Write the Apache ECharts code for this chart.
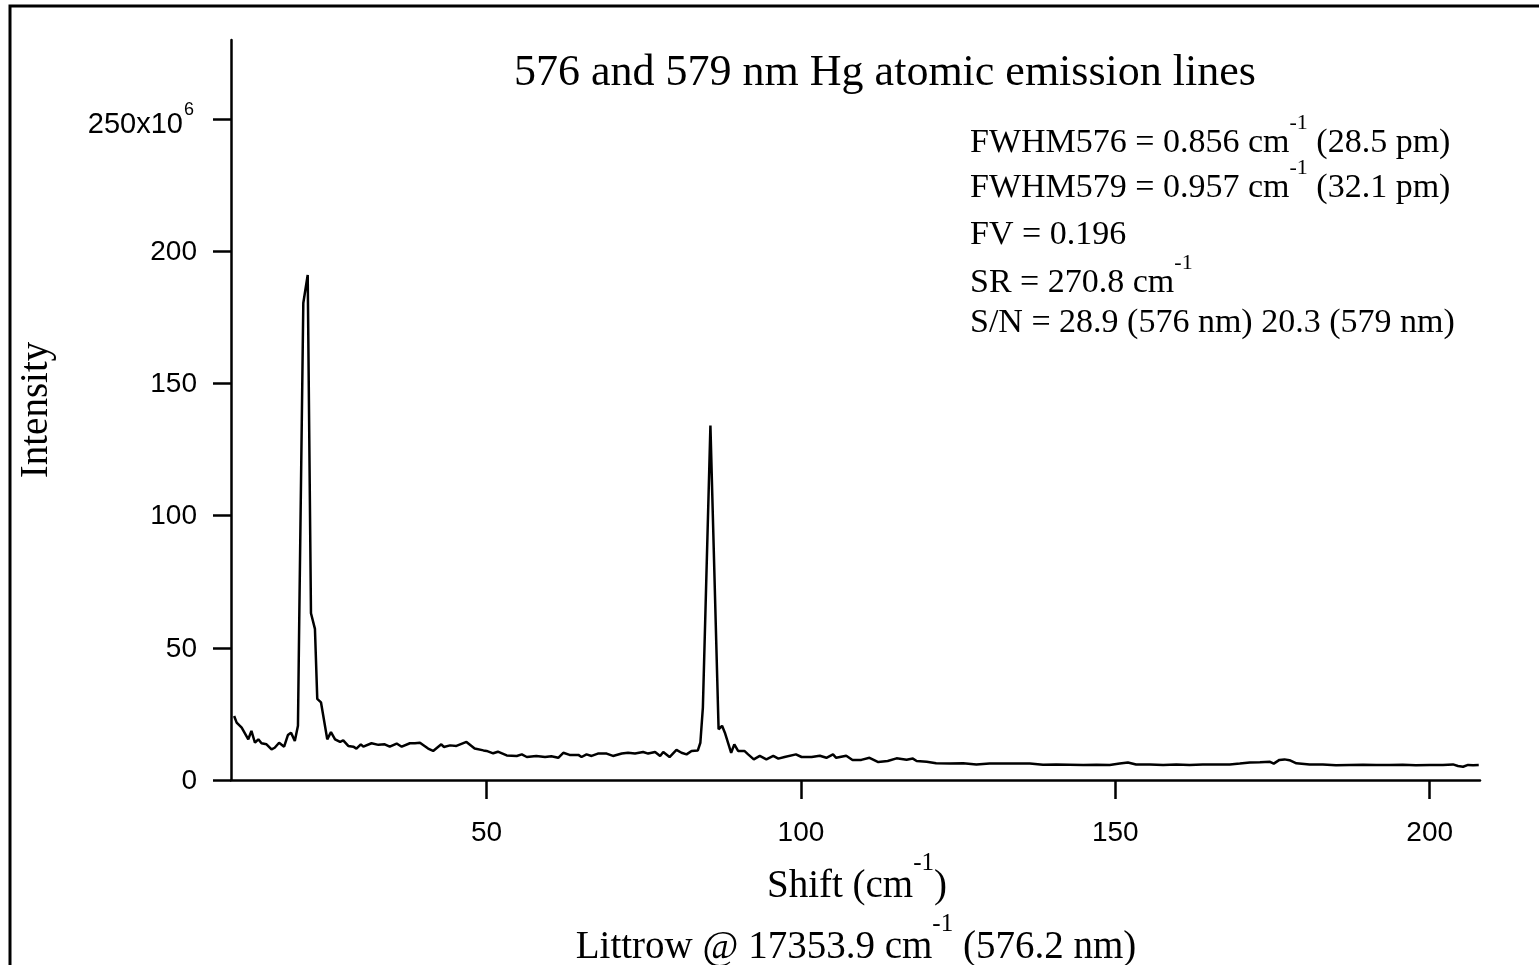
<!DOCTYPE html>
<html>
<head>
<meta charset="utf-8">
<script src="https://cdn.jsdelivr.net/npm/echarts@6/dist/echarts.min.js"></script>
<style>
html,body{margin:0;padding:0;background:#fff;}
#chart{width:1539px;height:965px;}
</style>
</head>
<body>
<div id="chart"></div>
<script>
// Shift (cm^-1) values of the spectrum samples
const shift = [
  9.85, 10.25, 11.05, 12.1, 12.6, 13.16, 13.7, 14.2, 15.0, 15.8,
  16.3, 17.0, 17.8, 18.4, 18.9, 19.5, 20.0, 20.2, 20.85, 21.55,
  22.07, 22.7, 23.07, 23.66, 24.66, 25.25, 25.9, 26.7, 27.2, 28.0,
  28.8, 29.3, 30.0, 30.4, 31.7, 32.8, 33.8, 34.6, 35.7, 36.5,
  37.8, 38.6, 39.4, 40.7, 41.5, 42.8, 43.2, 44.2, 45.2, 46.8,
  48.1, 49.5, 50.0, 51.05, 51.8, 53.2, 54.8, 55.6, 56.4, 57.9,
  59.3, 60.3, 61.4, 62.2, 63.2, 64.6, 65.1, 65.9, 66.7, 67.7,
  69.1, 70.1, 71.5, 72.5, 73.6, 74.9, 75.7, 76.8, 77.6, 78.1,
  79.1, 80.2, 81.0, 81.8, 82.6, 83.6, 84.0, 84.4, 85.6, 86.9,
  87.45, 87.9, 88.9, 89.4, 90.0, 91.0, 91.6, 92.5, 93.45, 94.5,
  95.6, 96.4, 97.4, 99.2, 100.1, 101.7, 103.0, 104.05, 105.1, 105.6,
  107.2, 108.2, 109.6, 110.9, 112.3, 113.8, 115.2, 116.8, 117.8, 118.4,
  120.0, 121.5, 123.7, 125.8, 127.9, 130.0, 132.1, 134.3, 136.4, 138.5,
  140.6, 142.7, 144.9, 147.0, 149.1, 150.7, 152.0, 153.3, 155.5, 157.6,
  159.7, 161.8, 163.9, 166.1, 168.2, 169.8, 171.4, 173.0, 174.6, 175.2,
  176.1, 176.9, 177.7, 178.8, 180.9, 183.0, 185.1, 187.2, 189.4, 191.5,
  193.6, 195.7, 197.8, 200.0, 202.1, 203.7, 204.5, 205.3, 206.1, 206.9,
  207.8
];
// Intensity in units of 10^6
const intensity = [
  24.2, 21.7, 19.8, 15.4, 18.6, 14.1, 15.4, 13.9, 13.5, 11.6,
  12.2, 14.1, 12.6, 17.0, 17.9, 14.8, 20.5, 59.8, 180.5, 191.1,
  63.1, 57.2, 30.7, 29.4, 15.4, 18.1, 15.4, 14.4, 15.0, 12.9,
  12.6, 11.9, 13.5, 12.6, 13.9, 13.3, 13.5, 12.6, 13.8, 12.6,
  13.9, 13.9, 14.1, 11.9, 11.0, 13.5, 12.5, 13.1, 12.9, 14.4,
  11.9, 11.2, 11.0, 10.1, 10.7, 9.3, 9.1, 9.7, 8.7, 9.1,
  8.7, 9.0, 8.4, 10.3, 9.5, 9.5, 8.7, 9.7, 9.1, 10.0,
  10.0, 9.1, 10.0, 10.3, 10.0, 10.6, 10.0, 10.6, 9.1, 10.6,
  8.7, 11.4, 10.3, 9.7, 11.0, 11.2, 14.1, 27.4, 134.1, 19.2,
  20.5, 17.9, 10.3, 13.5, 11.0, 11.0, 9.7, 7.8, 9.1, 7.8,
  9.1, 8.1, 8.7, 9.7, 8.7, 8.7, 9.2, 8.4, 9.7, 8.4,
  9.2, 7.6, 7.6, 8.4, 6.8, 7.2, 8.2, 7.7, 8.1, 7.2,
  6.9, 6.3, 6.2, 6.3, 5.9, 6.2, 6.2, 6.2, 6.2, 5.8,
  5.9, 5.8, 5.7, 5.8, 5.7, 6.2, 6.6, 5.9, 5.9, 5.7,
  5.9, 5.7, 5.9, 5.9, 5.9, 6.2, 6.6, 6.7, 6.9, 6.2,
  7.6, 7.8, 7.5, 6.3, 5.9, 5.9, 5.6, 5.7, 5.8, 5.7,
  5.7, 5.8, 5.6, 5.7, 5.7, 5.9, 5.3, 5.0, 5.7, 5.6,
  5.7
];
const xTicks = [50, 100, 150, 200];
const yTicks = [0, 50, 100, 150, 200, 250];

const titleText = '576 and 579 nm Hg atomic emission lines';
const annotationLines = [
  ['FWHM576 = 0.856 cm', '-1', ' (28.5 pm)'],
  ['FWHM579 = 0.957 cm', '-1', ' (32.1 pm)'],
  ['FV = 0.196'],
  ['SR = 270.8 cm', '-1'],
  ['S/N = 28.9 (576 nm) 20.3 (579 nm)']
];
const xTitle = ['Shift (cm', '-1', ')'];
const xTitle2 = ['Littrow @ 17353.9 cm', '-1', ' (576.2 nm)'];
const yTitle = 'Intensity';

const SERIF = '"Liberation Serif", "Times New Roman", serif';
const SANS = '"Liberation Sans", Arial, sans-serif';

function richLine(parts) {
  return parts.map((p, i) => (i % 2 === 1 ? '{s|' + p + '}' : '{n|' + p + '}')).join('');
}
function makeRich(F) {
  const sF = Math.round(F * 0.64);
  const LH = F + 2;
  const pad = Math.round(LH - 0.1625 * sF - 0.158 * F - 1);
  return {
    n: { fontFamily: SERIF, fontSize: F, lineHeight: LH, verticalAlign: 'bottom', fill: '#000', color: '#000' },
    s: { fontFamily: SERIF, fontSize: sF, lineHeight: sF, padding: [0, 0, pad, 0], verticalAlign: 'bottom', fill: '#000', color: '#000' }
  };
}
// distance from text block top to main baseline
function baselineOffset(F) {
  return (F + 2) / 2 + 0.3375 * F - 1;
}

const ANN_F = 34;
const annRich = makeRich(ANN_F);
const annBaselines = [153, 198, 245, 293, 333];
const annElements = annotationLines.map((parts, i) => ({
  type: 'text',
  x: 970,
  y: annBaselines[i] - baselineOffset(ANN_F),
  silent: true,
  style: { text: richLine(parts), rich: annRich, fill: '#000', align: 'left', verticalAlign: 'top' }
}));

const AX_F = 39;
const axRich = makeRich(AX_F);

const data = shift.map((x, i) => [x, intensity[i]]);

const chart = echarts.init(document.getElementById('chart'), null, { renderer: 'canvas' });
chart.setOption({
  animation: false,
  backgroundColor: '#fff',
  grid: { left: 231, right: 59, top: 40, bottom: 185 },
  xAxis: {
    type: 'value',
    min: 9.35,
    max: 208,
    splitLine: { show: false },
    axisLine: { show: true, onZero: false, lineStyle: { color: '#000', width: 2.5 } },
    axisTick: { show: true, length: 19, customValues: xTicks, lineStyle: { color: '#000', width: 2.5 } },
    axisLabel: { customValues: xTicks, color: '#000', fontFamily: SANS, fontSize: 28, margin: 39 }
  },
  yAxis: {
    type: 'value',
    min: 0,
    max: 280,
    splitLine: { show: false },
    axisLine: { show: true, onZero: false, lineStyle: { color: '#000', width: 2.5 } },
    axisTick: { show: true, length: 18, customValues: yTicks, lineStyle: { color: '#000', width: 2.5 } },
    axisLabel: {
      customValues: yTicks,
      margin: 34,
      color: '#000',
      formatter: function (v) { return v === 250 ? '{m2|250x10}{sup|6}' : '{m|' + v + '}'; },
      rich: {
        m: { fontFamily: SANS, fontSize: 28, lineHeight: 30, verticalAlign: 'bottom', color: '#000' },
        m2: { fontFamily: SANS, fontSize: 29, lineHeight: 40, verticalAlign: 'bottom', color: '#000' },
        sup: { fontFamily: SANS, fontSize: 18, lineHeight: 18, padding: [0, 3, 20, 1], verticalAlign: 'bottom', color: '#000' }
      }
    }
  },
  series: [{
    type: 'line',
    data: data,
    showSymbol: false,
    symbol: 'none',
    lineStyle: { color: '#000', width: 2.5 },
    silent: true
  }],
  graphic: [
    { type: 'rect', silent: true, shape: { x: 10, y: 6, width: 1700, height: 1100 }, style: { fill: 'none', stroke: '#000', lineWidth: 3 } },
    { type: 'text', silent: true, x: 885, y: 73, style: { text: titleText, font: '44px ' + SERIF, fill: '#000', align: 'center', verticalAlign: 'middle' } },
    ...annElements,
    { type: 'text', silent: true, x: 857, y: 898 - baselineOffset(AX_F), style: { text: richLine(xTitle), rich: axRich, fill: '#000', align: 'center', verticalAlign: 'top' } },
    { type: 'text', silent: true, x: 856, y: 959 - baselineOffset(AX_F), style: { text: richLine(xTitle2), rich: axRich, fill: '#000', align: 'center', verticalAlign: 'top' } },
    { type: 'text', silent: true, x: 37, y: 410, rotation: Math.PI / 2, style: { text: yTitle, font: AX_F + 'px ' + SERIF, fill: '#000', align: 'center', verticalAlign: 'middle' } }
  ]
});
</script>
</body>
</html>
